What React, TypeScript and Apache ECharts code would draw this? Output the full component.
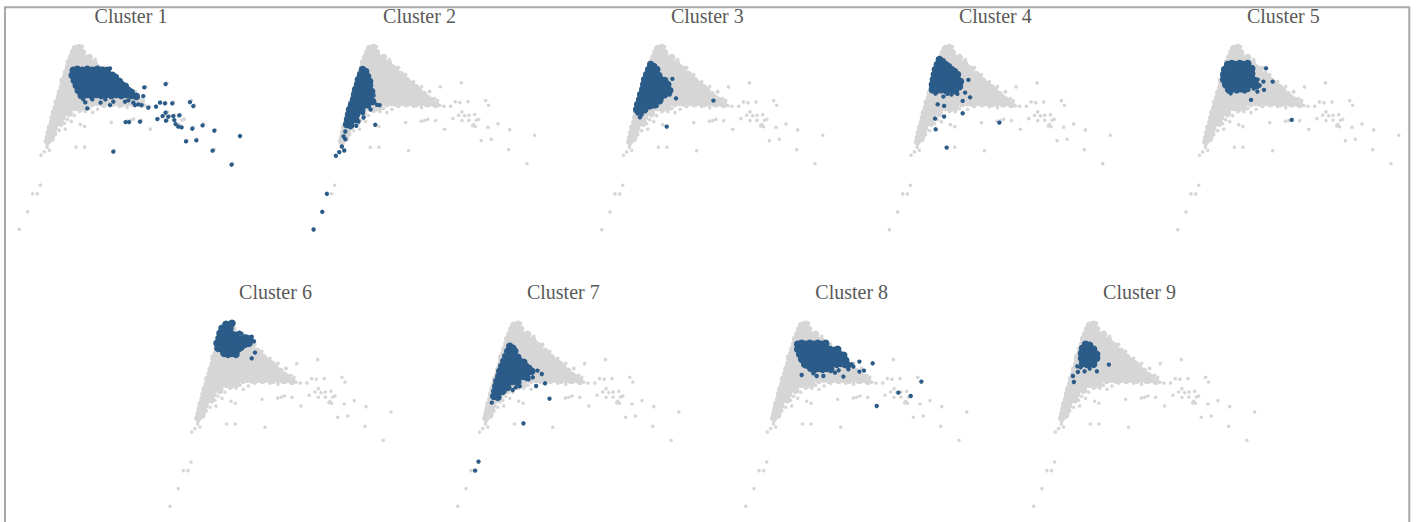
import React, { useEffect, useRef } from "react";
import * as echarts from "echarts";

// ---------- DATA (projection coordinates) ----------
const titles = ["Cluster 1", "Cluster 2", "Cluster 3", "Cluster 4", "Cluster 5", "Cluster 6", "Cluster 7", "Cluster 8", "Cluster 9"];

// dense body of the full point cloud (grey, shared by every panel)
const greyCore: number[][] = [
  [56, 181], [60, 182],
  [54, 177], [58, 176], [63, 177],
  [52, 172], [56, 171], [61, 172], [66, 171], [70, 172],
  [50, 167], [55, 166], [60, 167], [65, 166], [70, 167], [75, 166],
  [49, 162], [53, 161], [58, 162], [63, 161], [68, 162], [73, 161], [78, 162], [82, 160],
  [47, 157], [52, 156], [57, 157], [62, 156], [67, 157], [72, 156], [77, 157], [82, 156], [87, 155],
  [46, 152], [50, 151], [55, 152], [60, 151], [65, 152], [70, 151], [75, 152], [80, 151], [85, 152], [90, 151], [93, 149],
  [44, 147], [49, 146], [54, 147], [59, 146], [64, 147], [69, 146], [74, 147], [79, 146], [84, 147], [89, 146], [94, 147], [98, 145],
  [43, 142], [47, 141], [52, 142], [57, 141], [62, 142], [67, 141], [72, 142], [77, 141], [82, 142], [87, 141], [92, 142], [97, 141], [102, 142], [105, 139],
  [41, 137], [46, 136], [51, 137], [56, 136], [61, 137], [66, 136], [71, 137], [76, 136], [81, 137], [86, 136], [91, 137], [96, 136], [101, 137], [106, 136], [110, 135],
  [40, 132], [44, 131], [49, 132], [54, 131], [59, 132], [64, 131], [69, 132], [74, 131], [79, 132], [84, 131], [89, 132], [94, 131], [99, 132], [104, 131], [109, 132], [114, 131], [117, 129],
  [38, 127], [43, 126], [48, 127], [53, 126], [58, 127], [63, 126], [68, 127], [73, 126], [78, 127], [83, 126], [88, 127], [93, 126], [98, 127], [103, 126], [108, 127], [113, 126], [118, 127], [122, 125],
  [37, 122], [41, 121], [46, 122], [51, 121], [56, 122], [61, 121], [66, 122],
  [35, 117], [40, 116], [45, 117], [50, 116],
  [34, 112], [38, 111], [43, 112],
  [33, 107], [37, 106], [41, 107],
  [31, 102], [35, 101],
  [30, 97], [34, 96],
  [29, 92], [32, 91],
  [28, 88],
];

// sparse points of the full cloud (grey)
const greySparse: number[][] = [
  [0, 0], [8.3, 17.7], [13.3, 35.7], [18, 35.7], [21, 44.3], [21.7, 74.3], [25, 77.7], [27.7, 82.3], [30, 79.3],
  [30.3, 91], [31.7, 94.3], [28, 85], [56.7, 82.3], [65.3, 82.3], [95, 79], [42, 104.3], [46, 100.3], [61, 105],
  [65.3, 103], [73.3, 117], [78.3, 120.3], [92, 107], [107.7, 108.3], [111, 109], [114.3, 110.3], [122, 109],
  [131, 100.3], [130.3, 123.3], [137, 123.3], [141.7, 127.7], [146.3, 127], [154.3, 127.7], [147.7, 146.7],
  [126.7, 142.7], [139.3, 111], [145, 114.3], [148.3, 117.7], [151, 113.7], [155.3, 114.3], [161, 115],
  [148.3, 109], [155.3, 109.3], [162.7, 109.3], [160, 105], [165, 110.3], [159, 103.7], [161.7, 103],
  [172, 129], [175, 124.3], [174.3, 102.3], [184.3, 105.7], [196, 99.7], [167.7, 89], [177.7, 90.3],
  [195, 80], [221, 94.3], [213.3, 66], [116, 137.7], [121, 131], [114.3, 127.7], [109, 126], [94.3, 129.3],
  [63, 183], [76, 170], [85, 162], [92, 155], [100, 148], [108, 143], [116, 138], [126, 124], [124, 129],
  [85, 123], [92, 124], [100, 123], [108, 122], [115, 124], [60, 118], [55, 114], [48, 110], [45, 106],
  [48, 168], [42, 150], [36, 128], [32, 112], [30, 98], [70, 121], [66, 118], [52, 108], [40, 99], [36, 95],
];

// highlighted members of each cluster: dense body + scattered members
const cluster1Core: number[][] = [
  [54, 159], [58, 160], [63, 159], [68, 160], [73, 159], [78, 160], [83, 159], [88, 159],
  [53, 154], [58, 155], [63, 154], [68, 155], [73, 154], [78, 155], [83, 154], [88, 155], [93, 154], [96, 152],
  [55, 149], [60, 150], [65, 149], [70, 150], [75, 149], [80, 150], [85, 149], [90, 150], [95, 149], [100, 148],
  [57, 144], [62, 145], [67, 144], [72, 145], [77, 144], [82, 145], [87, 144], [92, 145], [97, 144], [102, 145], [106, 143],
  [59, 139], [64, 140], [69, 139], [74, 140], [79, 139], [84, 140], [89, 139], [94, 140], [99, 139], [104, 140], [109, 139], [112, 137],
  [62, 134], [67, 135], [72, 134], [77, 135], [82, 134], [87, 135], [92, 134], [97, 135], [102, 134], [107, 135], [112, 134], [117, 133],
];
const cluster1Pts: number[][] = [
  [90.7, 161], [125, 142], [146.3, 145.3], [124, 133.3], [122.3, 124.3], [129, 121.7], [136.7, 122.7], [140.7, 126.7],
  [145.7, 126], [153, 126], [170.7, 127.3], [174, 123.3], [146.3, 116.7], [143.3, 113.3], [138, 110.3], [149, 112.7],
  [154, 113.3], [160, 114], [146.7, 108.7], [155, 109.3], [156.3, 105.3], [159, 102.7], [162.3, 102], [173, 100.7],
  [183.3, 104], [195, 98.7], [166.7, 88], [177, 89], [193.3, 78.7], [220.7, 93.3], [212.3, 64.7], [94, 77.7],
  [106.3, 107.3], [109.7, 107.3], [120.7, 107.7], [68, 121], [64, 130], [66, 127], [81.3, 126.7], [90.7, 124.3],
  [94, 127.7], [105.7, 127.7], [109, 129], [114, 126.7], [115.7, 124.3], [119, 125], [111, 136], [73, 130], [86, 130],
];

const cluster2Core: number[][] = [
  [49, 160], [52, 158],
  [47, 155], [51, 154], [54, 153],
  [45, 150], [49, 149], [53, 150], [56, 148],
  [44, 145], [48, 144], [52, 145], [56, 144],
  [42, 140], [46, 139], [50, 140], [54, 139], [58, 138],
  [41, 135], [45, 134], [49, 135], [53, 134], [57, 135],
  [40, 130], [44, 129], [48, 130], [52, 129], [56, 130], [59, 128],
  [38, 125], [42, 124], [46, 125], [50, 124], [54, 125],
  [36, 120], [40, 119], [44, 120], [48, 119],
  [35, 115], [39, 114], [43, 115],
  [34, 110], [38, 109], [42, 110],
  [33, 105], [37, 104],
];
const cluster2Pts: number[][] = [
  [63.3, 124.7], [66, 124.3], [61.7, 104.7], [42.7, 103.7], [49.3, 116.3], [55, 123], [50, 112], [31.7, 98],
  [30, 93], [31.7, 90.3], [28.3, 83], [30.7, 79], [25.7, 77.3], [22.3, 73.7], [13.3, 35.7], [8.7, 17.7], [0, 0],
  [57, 120], [45, 108], [60, 134],
];

const cluster3Core: number[][] = [
  [49, 165], [52, 163],
  [47, 160], [51, 159], [55, 160],
  [45, 155], [49, 154], [53, 155], [57, 154],
  [43, 150], [47, 149], [51, 150], [55, 149], [59, 150], [63, 149],
  [42, 145], [46, 144], [50, 145], [54, 144], [58, 145], [62, 144], [66, 145],
  [41, 140], [45, 139], [49, 140], [53, 139], [57, 140], [61, 139], [65, 140], [68, 139],
  [39, 135], [43, 134], [47, 135], [51, 134], [55, 135], [59, 134], [63, 135],
  [38, 130], [42, 129], [46, 130], [50, 129], [54, 130], [58, 129],
  [36, 125], [40, 124], [44, 125], [48, 124], [53, 125],
  [35, 120], [39, 119], [43, 120],
];
const cluster3Pts: number[][] = [
  [70.7, 150.7], [74.3, 131.3], [111.7, 129], [65, 103], [38.3, 112.3], [40, 115], [55, 123.7], [50, 123],
  [60, 131], [68, 135], [36, 116],
];

const cluster4Core: number[][] = [
  [50, 170], [53, 168],
  [48, 165], [52, 164], [56, 165], [59, 163],
  [46, 160], [50, 159], [54, 160], [58, 159], [62, 160], [65, 158],
  [45, 155], [49, 154], [53, 155], [57, 154], [61, 155], [65, 154], [68, 155],
  [44, 150], [48, 149], [52, 150], [56, 149], [60, 150], [64, 149], [68, 150], [71, 148],
  [43, 145], [47, 144], [51, 145], [55, 144], [59, 145], [63, 144], [67, 145], [70, 143],
  [43, 140], [47, 139], [52, 140], [57, 139], [62, 140], [66, 139],
];
const cluster4Pts: number[][] = [
  [79, 149.7], [75.7, 137], [80.7, 132.3], [73.3, 128.7], [54, 133], [48.3, 125.3], [54.7, 123.7], [45.7, 111],
  [54.7, 113], [73.3, 116.3], [46.3, 100.3], [57.3, 82], [110, 107], [58, 135.7], [68, 135.7], [46, 136], [62, 135],
];

const cluster5Core: number[][] = [
  [50, 165], [54, 166], [58, 165], [62, 166], [66, 165], [70, 166],
  [47, 160], [51, 161], [55, 160], [59, 161], [63, 160], [67, 161], [71, 160], [74, 161],
  [46, 155], [50, 156], [54, 155], [58, 156], [62, 155], [66, 156], [70, 155], [74, 156],
  [46, 150], [50, 151], [54, 150], [58, 151], [62, 150], [66, 151], [70, 150], [74, 151], [77, 149],
  [48, 145], [52, 146], [56, 145], [60, 146], [64, 145], [68, 146], [72, 145], [76, 146], [79, 144],
  [51, 140], [55, 141], [59, 140], [63, 141], [67, 140],
];
const cluster5Pts: number[][] = [
  [88.3, 161.3], [95, 148], [86.3, 139.7], [79.7, 138], [73.3, 129.7], [114, 109.7], [85.7, 148], [80, 150],
  [53, 136.3], [70.7, 139.7], [76, 141], [82, 144],
];

const cluster6Core: number[][] = [
  [56, 182], [62, 183],
  [52, 178], [56, 177], [60, 178],
  [50, 173], [54, 172], [58, 173], [62, 172], [66, 171],
  [49, 168], [53, 167], [57, 168], [61, 167], [65, 168], [69, 167], [73, 167], [77, 168], [80, 167],
  [47, 163], [51, 162], [55, 163], [59, 162], [63, 163], [67, 162], [71, 163], [75, 162], [79, 163],
  [48, 158], [52, 157], [56, 158], [60, 157], [64, 158], [68, 157], [71, 159],
  [54, 153], [58, 152], [62, 153], [66, 152],
];
const cluster6Pts: number[][] = [
  [69.3, 173.7], [71.5, 172.5], [81.7, 169.7], [85, 153.7], [81.7, 148], [65, 154.7], [75, 170], [84, 165],
];

const cluster7Core: number[][] = [
  [52, 160], [55, 158],
  [50, 155], [54, 154], [57, 155],
  [48, 150], [52, 149], [56, 150], [60, 149],
  [46, 145], [50, 144], [54, 145], [58, 144], [62, 145], [66, 144],
  [44, 140], [48, 139], [52, 140], [56, 139], [60, 140], [64, 139], [68, 140], [71, 138],
  [42, 135], [46, 134], [50, 135], [54, 134], [58, 135], [62, 134], [66, 135], [70, 134], [74, 135],
  [41, 130], [45, 129], [49, 130], [53, 129], [57, 130], [61, 129], [65, 130], [69, 129],
  [39, 125], [43, 124], [47, 125], [51, 124], [55, 125], [60, 124],
  [38, 120], [42, 119], [46, 120], [50, 119],
  [37, 115], [41, 114], [45, 115],
  [36, 110], [40, 109],
];
const cluster7Pts: number[][] = [
  [79.7, 135.7], [84, 132.3], [87.3, 123], [78.3, 120.3], [91.7, 107.7], [55, 116.3], [65.7, 83], [34, 103.7],
  [20.7, 44.7], [17.3, 35.7], [70.7, 127], [75, 129], [62, 120], [58, 119],
];

const cluster8Core: number[][] = [
  [52, 162], [56, 163], [60, 162], [64, 163], [68, 162], [72, 163], [76, 162], [80, 163],
  [52, 157], [56, 158], [60, 157], [64, 158], [68, 157], [72, 158], [76, 157], [80, 158], [84, 157], [88, 156], [92, 157],
  [54, 152], [58, 153], [62, 152], [66, 153], [70, 152], [74, 153], [78, 152], [82, 153], [86, 152], [90, 153], [94, 152], [98, 151],
  [56, 147], [60, 148], [64, 147], [68, 148], [72, 147], [76, 148], [80, 147], [84, 148], [88, 147], [92, 148], [96, 147], [100, 146],
  [59, 142], [63, 143], [67, 142], [71, 143], [75, 142], [79, 143], [83, 142], [87, 143], [91, 142], [95, 143], [99, 142], [102, 141],
  [65, 138], [69, 137], [73, 138], [77, 137], [81, 138], [85, 137],
];
const cluster8Pts: number[][] = [
  [127, 143], [113.7, 144.7], [107.7, 139.7], [113.7, 134.7], [118.3, 135.7], [102.7, 137], [97.7, 129.7],
  [89.3, 133.7], [77.7, 130.3], [71, 130.3], [67.7, 133], [56, 131.3], [60.3, 139.7], [175.7, 124.7],
  [152.7, 113.7], [165, 110.3], [131, 100.3], [92.7, 157], [106, 142], [93, 136],
];

const cluster9Core: number[][] = [
  [52, 162], [56, 161],
  [49, 158], [53, 157], [57, 158], [60, 157],
  [48, 153], [52, 152], [56, 153], [60, 152], [63, 152],
  [48, 148], [52, 147], [56, 148], [60, 147], [63, 148],
  [49, 143], [53, 142], [57, 143], [60, 142],
];
const cluster9Pts: number[][] = [
  [75.3, 141.7], [63.3, 135], [56, 137.7], [51, 135], [44.3, 134.3], [43.7, 140], [39.3, 130.3], [40.3, 124.3],
  [59.3, 144.3], [47, 139],
];

const clusterCores = [cluster1Core, cluster2Core, cluster3Core, cluster4Core, cluster5Core, cluster6Core, cluster7Core, cluster8Core, cluster9Core];
const clusterPts = [cluster1Pts, cluster2Pts, cluster3Pts, cluster4Pts, cluster5Pts, cluster6Pts, cluster7Pts, cluster8Pts, cluster9Pts];

// ---------- LAYOUT ----------
const W = 1416;
const H = 522;
// page position of each panel's projection origin
const panelOrigins: number[][] = [
  [19.3, 229.4], [313.6, 229.5], [601.7, 229.6], [889.4, 229.6], [1177.7, 229.6],
  [170, 506.3], [457.8, 506.3], [745.7, 506.3], [1033.6, 506.3],
];
const titlePos: number[][] = [
  [131, 16], [419.5, 16], [707.3, 16], [995.3, 16], [1283.3, 16],
  [275.5, 291.5], [563.3, 291.5], [851.7, 291.5], [1139.5, 291.5],
];
const X_MIN = -10, X_MAX = 230, Y_MIN = -10, Y_MAX = 195;

const GREY = "#d6d6d6";
const BLUE = "#2b5b88";

export default function App() {
  const ref = useRef<HTMLDivElement>(null);
  useEffect(() => {
    if (!ref.current) return;
    const chart = echarts.init(ref.current, undefined, { renderer: "svg" });
    const grids = panelOrigins.map((p) => ({
      left: p[0] + X_MIN,
      top: p[1] - Y_MAX,
      width: X_MAX - X_MIN,
      height: Y_MAX - Y_MIN,
      containLabel: false,
    }));
    const xAxes = panelOrigins.map((_, i) => ({ type: "value", gridIndex: i, min: X_MIN, max: X_MAX, show: false }));
    const yAxes = panelOrigins.map((_, i) => ({ type: "value", gridIndex: i, min: Y_MIN, max: Y_MAX, show: false }));
    const series: any[] = [];
    panelOrigins.forEach((_, i) => {
      const base = { type: "scatter", xAxisIndex: i, yAxisIndex: i, silent: true, animation: false };
      series.push({ ...base, data: greyCore, symbolSize: 7.4, itemStyle: { color: GREY, opacity: 1 } });
      series.push({ ...base, data: greySparse, symbolSize: 3.6, itemStyle: { color: GREY, opacity: 1 } });
      series.push({ ...base, data: clusterCores[i], symbolSize: 7.6, itemStyle: { color: BLUE, opacity: 1 } });
      series.push({ ...base, data: clusterPts[i], symbolSize: 4.4, itemStyle: { color: BLUE, opacity: 1 } });
    });
    const graphics: any[] = [
      {
        type: "rect",
        shape: { x: 5, y: 7.3, width: 1404.3, height: 540 },
        style: { fill: "none", stroke: "#a8a8a8", lineWidth: 2 },
        silent: true,
      },
      ...titles.map((t, i) => ({
        type: "text",
        x: titlePos[i][0],
        y: titlePos[i][1],
        silent: true,
        style: {
          text: t,
          align: "center",
          verticalAlign: "middle",
          fontFamily: "Liberation Serif",
          fontSize: 20,
          fill: "#595959",
        },
      })),
    ];
    chart.setOption({
      animation: false,
      backgroundColor: "#ffffff",
      grid: grids,
      xAxis: xAxes,
      yAxis: yAxes,
      series,
      graphic: graphics,
    });
    return () => chart.dispose();
  }, []);
  return <div ref={ref} style={{ position: "fixed", left: 0, top: 0, width: W, height: H }} />;
}
